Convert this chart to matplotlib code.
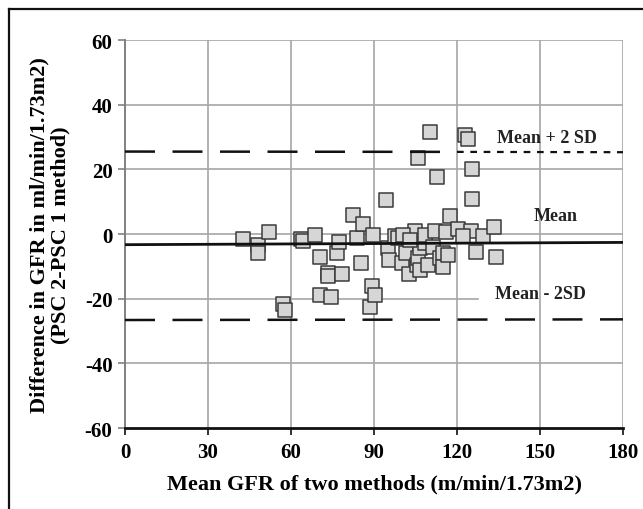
import matplotlib
matplotlib.use('Agg')
import matplotlib.pyplot as plt
from matplotlib.lines import Line2D

# Bland-Altman data
mean_gfr = [42.5, 48, 48, 52, 57, 58, 63.5, 64.5, 68.7, 70.5,
            70.5, 73.5, 73.5, 74.5, 76.5, 77.5, 78.3, 82.3, 83.8, 85.3,
            86, 88.5, 89.2, 89.5, 90.5, 94.5, 95, 95.5, 97.5, 98.7,
            100, 101.5, 102.5, 104.8, 105.5, 105.9, 106.5, 106, 106.6, 108.4,
            108.4, 109.5, 110.2, 111.3, 112, 112.8, 113.8, 115, 115, 116,
            116.7, 117.5, 120.4, 122.9, 124, 125, 125.4, 125.4, 126.8, 129.4,
            133.4, 134, 100.5, 122, 103]
diff_gfr = [-1.5, -3.5, -5.8, 0.5, -21.5, -23.5, -1.5, -2.2, -0.3, -7.2,
            -19, -12, -13, -19.5, -6, -2.5, -12.5, 5.8, -1.3, -9,
            3.2, -22.5, -16, -0.2, -18.8, 10.5, -4.3, -8, -0.5, -1.2,
            -9, -5.8, -12.3, 0.8, -9.5, -7.5, -11.2, 23.5, -4.4, -2.8,
            -0.3, -9.6, 31.5, -4.1, 0.9, 17.5, -7.5, -5.9, -10.3, 0.5,
            -6.5, 5.6, 1.5, 30.5, 29.3, 0.9, 20, 10.8, -5.6, -0.5,
            2.3, -7, -0.3, -0.5, -2]

line_x = [0, 180]
mean_line = [-3.3, -2.6]
upper_long_x = [0, 120]
upper_long = [25.5, 25.4]
upper_short_x = [120, 180]
upper_short = [25.4, 25.3]
lower_line = [-26.6, -26.4]

xticks = [0, 30, 60, 90, 120, 150, 180]
yticks = [-60, -40, -20, 0, 20, 40, 60]

plt.rcParams['font.family'] = ['Liberation Serif', 'DejaVu Serif']
plt.rcParams['font.weight'] = 'bold'
plt.rcParams['axes.unicode_minus'] = False

fig = plt.figure(figsize=(6.43, 5.10), dpi=100)
ax = fig.add_axes([0.1944, 0.1588, 0.7745, 0.7608])

grid_col = '#a6a6a6'
for xv in xticks[1:]:
    ax.axvline(xv, color=grid_col, lw=1.2, zorder=1)
for yv in yticks[1:]:
    if yv == -20:
        ax.axhline(yv, xmax=0.708, color=grid_col, lw=1.2, zorder=1)
    else:
        ax.axhline(yv, color=grid_col, lw=1.2, zorder=1)

ax.scatter(mean_gfr, diff_gfr, marker='s', s=95, facecolor='#d6d6d6',
           edgecolor='#3a3a3a', linewidth=1.1, zorder=3)

ax.plot(line_x, mean_line, color='#111111', lw=2.0, zorder=4)
ax.plot(upper_long_x, upper_long, color='#111111', lw=1.8,
        dashes=(12, 7), zorder=4)
ax.plot(upper_short_x, upper_short, color='#111111', lw=1.6,
        dashes=(3, 3), zorder=4)
ax.plot(line_x, lower_line, color='#111111', lw=1.8,
        dashes=(12, 7), zorder=4)

ax.text(152.5, 30, 'Mean + 2 SD', ha='center', va='center', fontsize=13,
        fontweight='bold', color='#222222', zorder=5)
ax.text(155.5, 5.6, 'Mean', ha='center', va='center', fontsize=13,
        fontweight='bold', color='#222222', zorder=5)
ax.text(150, -18.3, 'Mean - 2SD', ha='center', va='center', fontsize=13,
        fontweight='bold', color='#222222', zorder=5)

ax.set_xlim(0, 180)
ax.set_ylim(-60, 60)
ax.set_xticks(xticks)
ax.set_yticks(yticks)
ax.tick_params(axis='both', labelsize=15, length=5, width=1.2)
ax.tick_params(axis='x', pad=5, color='#111111')
ax.tick_params(axis='y', pad=4, color='#808080')

for lab in ax.get_xticklabels() + ax.get_yticklabels():
    lab.set_fontweight('bold')

ax.spines['top'].set_visible(False)
ax.spines['right'].set_visible(False)
ax.spines['left'].set_color('#808080')
ax.spines['left'].set_linewidth(1.4)
ax.spines['bottom'].set_color('#111111')
ax.spines['bottom'].set_linewidth(2.0)

ax.set_xlabel('Mean GFR of two methods (m/min/1.73m2)', fontsize=16,
              fontweight='bold', labelpad=8)
ax.set_ylabel('Difference in GFR in ml/min/1.73m2)\n(PSC 2-PSC 1 method)',
              fontsize=16, fontweight='bold', labelpad=10, linespacing=1.1)

# outer frame (left and top edges only are visible in the picture)
fig.add_artist(Line2D([9 / 643, 9 / 643], [0, 1 - 10 / 510],
                      transform=fig.transFigure, color='#111111', lw=1.6))
fig.add_artist(Line2D([9 / 643, 1], [1 - 10 / 510, 1 - 10 / 510],
                      transform=fig.transFigure, color='#111111', lw=1.6))

fig.savefig('out.png', dpi=100)
